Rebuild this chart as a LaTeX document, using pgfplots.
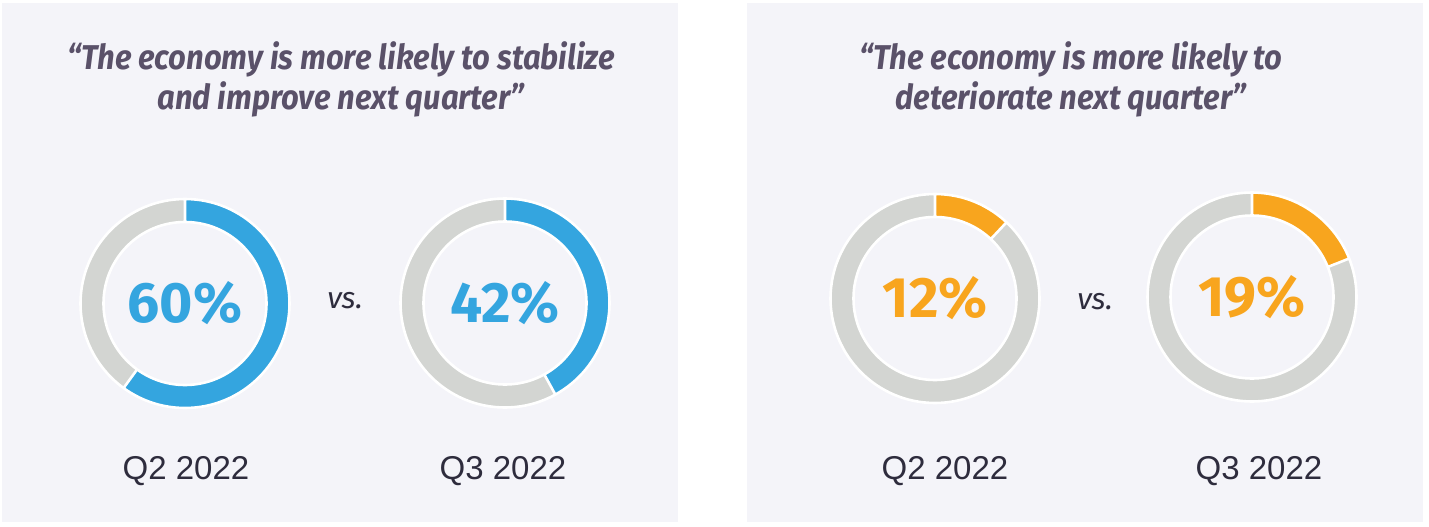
\documentclass[border=0pt]{standalone}
\usepackage{pgfplots}
\pgfplotsset{compat=1.18}
\usepackage{pgfplotstable}
\usepackage{fontspec}
\setmainfont{Fira Sans}
\newfontfamily\titlefont[FakeStretch=0.9]{Fira Sans}
\newfontfamily\qfont{Liberation Sans}

\definecolor{panelbg}{HTML}{F4F4F9}
\definecolor{ringgray}{HTML}{D3D5D2}
\definecolor{upblue}{HTML}{34A5DF}
\definecolor{downorange}{HTML}{F8A51E}
\definecolor{titlecol}{HTML}{5A5169}
\definecolor{labcol}{HTML}{2E2C3D}

% donut centres in pixel units (y measured from the bottom), share in %
\pgfplotstableread{
x    y      pct
185  222.5  60
505  223    42
}\improve
\pgfplotstableread{
x     y      pct
935   227.5  12
1252  229    19
}\deteriorate

\def\Ro{52.25pt}
\def\Ri{40.75pt}

% ring for row #2 of table #1, share drawn in colour #3
\newcommand\donut[3]{%
  \pgfplotstablegetelem{#2}{x}\of#1\let\dcx\pgfplotsretval
  \pgfplotstablegetelem{#2}{y}\of#1\let\dcy\pgfplotsretval
  \pgfplotstablegetelem{#2}{pct}\of#1\let\dpct\pgfplotsretval
  \pgfmathsetmacro\ang{90-3.6*\dpct}%
  \begin{scope}[shift={(axis cs:\dcx,\dcy)}]
    \fill[ringgray,even odd rule] (0,0) circle[radius=\Ro] (0,0) circle[radius=\Ri];
    \fill[#3] (90:\Ro) arc[start angle=90,end angle=\ang,radius=\Ro]
      -- (\ang:\Ri) arc[start angle=\ang,end angle=90,radius=\Ri] -- cycle;
    \draw[white,line width=1.3pt] (0,0) circle[radius=\Ro] (0,0) circle[radius=\Ri]
      (90:\Ri) -- (90:\Ro) (\ang:\Ri) -- (\ang:\Ro);
  \end{scope}
}

\pgfdeclareplotmark{nothing}{}
\pgfplotsset{
  share/.style={
    only marks, mark=nothing,
    point meta=explicit,
    nodes near coords={\pgfmathprintnumber[assume math mode=true]{\pgfplotspointmeta}\%},
    every node near coord/.append style={anchor=center, text=#1,
      font=\fontsize{28.5}{30}\selectfont\bfseries},
  },
}

\begin{document}
\begin{tikzpicture}
\begin{axis}[
  x=0.5pt, y=0.5pt,
  xmin=0, xmax=1429, ymin=0, ymax=526,
  hide axis, clip=false,
]
\fill[white] (axis cs:0,0) rectangle (axis cs:1429,526);
\fill[panelbg] (axis cs:2,4) rectangle (axis cs:678,523);
\fill[panelbg] (axis cs:747,4) rectangle (axis cs:1423,523);

\pgfplotsextra{%
  \donut{\improve}{0}{upblue}\donut{\improve}{1}{upblue}%
  \donut{\deteriorate}{0}{downorange}\donut{\deteriorate}{1}{downorange}}

\addplot[share=upblue] table[x=x, y=y, meta=pct] {\improve};
\addplot[share=downorange] table[x=x, y=y, meta=pct] {\deteriorate};

\begin{scope}[every node/.style={text=titlecol, anchor=base,
    font=\titlefont\fontsize{17.2}{20}\selectfont\bfseries\itshape}]
\node at (axis cs:341,456) {“The economy is more likely to stabilize};
\node at (axis cs:341,416) {and improve next quarter”};
\node at (axis cs:1071,456) {“The economy is more likely to};
\node at (axis cs:1071,416) {deteriorate next quarter”};
\end{scope}

\begin{scope}[every node/.style={text=labcol, anchor=base,
    font=\fontsize{15}{18}\selectfont\itshape}]
\node at (axis cs:345,218) {vs.};
\node at (axis cs:1095,217) {vs.};
\end{scope}

\begin{scope}[every node/.style={text=labcol, anchor=base,
    font=\qfont\fontsize{16.5}{20}\selectfont}]
\node at (axis cs:186,47) {Q2 2022};
\node at (axis cs:503,47) {Q3 2022};
\node at (axis cs:945,47) {Q2 2022};
\node at (axis cs:1259,47) {Q3 2022};
\end{scope}
\end{axis}
\end{tikzpicture}
\end{document}
